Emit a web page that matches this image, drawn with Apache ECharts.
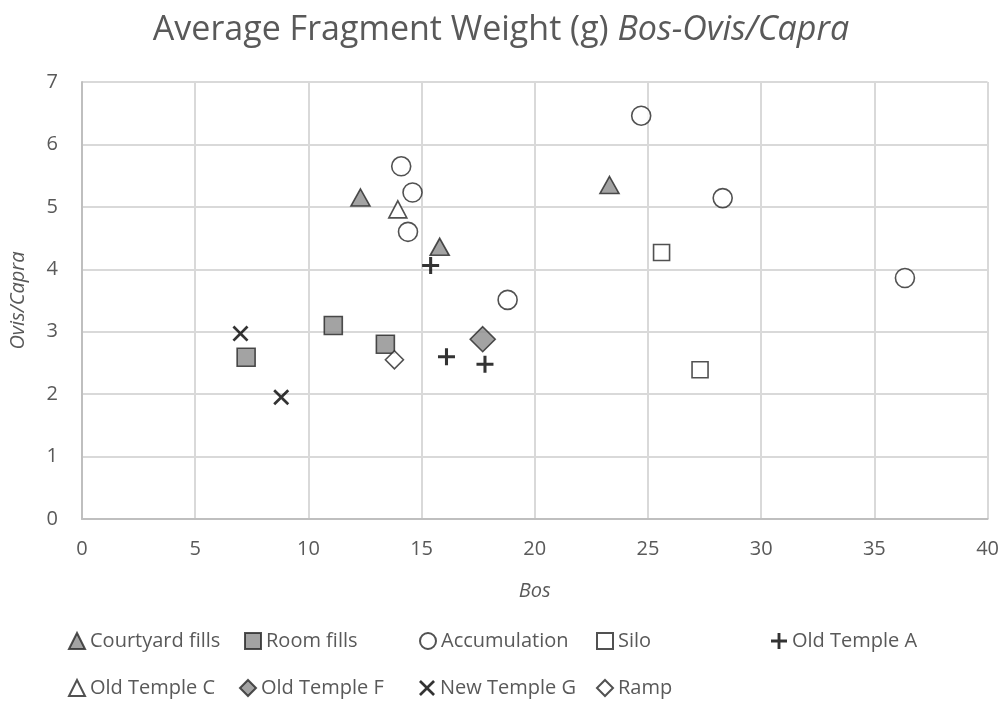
<!DOCTYPE html>
<html lang="en">
<head>
    <meta charset="UTF-8">
    <title>fragment weight</title>
    <script src="https://cdn.jsdelivr.net/npm/echarts@6/dist/echarts.min.js"></script>
</head>
<body style="margin:0">
<div id="main" style="width: 1002px;height:703px;"></div>
</body>

<script type="text/javascript">

    // [Bos, Ovis/Capra]
    var courtyardFills = [[12.3, 5.15], [15.8, 4.36], [23.3, 5.35]];
    var roomFills = [[7.25, 2.59], [11.1, 3.1], [13.4, 2.8]];
    var accumulation = [[14.1, 5.65], [14.6, 5.23], [14.4, 4.6], [18.8, 3.51], [24.7, 6.46], [28.3, 5.14], [36.35, 3.86]];
    var silo = [[25.6, 4.27], [27.3, 2.39]];
    var oldTempleA = [[15.4, 4.06], [16.1, 2.6], [17.8, 2.48]];
    var oldTempleC = [[13.95, 4.96]];
    var oldTempleF = [[17.7, 2.88]];
    var newTempleG = [[7.0, 2.97], [8.8, 1.95]];
    var ramp = [[13.8, 2.55]];

    var xTicks = [0, 5, 10, 15, 20, 25, 30, 35, 40];
    var yTicks = [0, 1, 2, 3, 4, 5, 6, 7];

    var font = 'Open Sans';
    var textColor = '#595959';
    var plusPath = 'path://M4.1,0H5.9V4.1H10V5.9H5.9V10H4.1V5.9H0V4.1H4.1Z';
    var crossPath = 'path://M1.2,0L5,3.8L8.8,0L10,1.2L6.2,5L10,8.8L8.8,10L5,6.2L1.2,10L0,8.8L3.8,5L0,1.2Z';

    var mk = function (name, data, symbol, size, fill, border) {
        return {
            name: name,
            type: 'scatter',
            data: data,
            symbol: symbol,
            symbolSize: size,
            itemStyle: {
                color: fill,
                borderColor: border === undefined ? '#262626' : border,
                borderWidth: border === null ? 0 : 1.6
            },
            emphasis: {disabled: true}
        };
    };

    var series = [
        mk('Courtyard fills', courtyardFills, 'triangle', [19, 17], '#8c8c8c'),
        mk('Room fills', roomFills, 'rect', 18, '#8c8c8c'),
        mk('Accumulation', accumulation, 'circle', 19, '#ffffff'),
        mk('Silo', silo, 'rect', 16, '#ffffff'),
        mk('Old Temple A', oldTempleA, plusPath, 17, '#000000', null),
        mk('Old Temple C', oldTempleC, 'triangle', [18, 17], '#ffffff'),
        mk('Old Temple F', oldTempleF, 'diamond', [25, 25], '#8c8c8c'),
        mk('New Temple G', newTempleG, crossPath, 16, '#000000', null),
        mk('Ramp', ramp, 'diamond', [18, 18], '#ffffff')
    ];

    // legend slots, laid out like the original
    var slots = [
        ['Courtyard fills', 68, 631], ['Room fills', 244, 631], ['Accumulation', 419, 631],
        ['Silo', 596, 631], ['Old Temple A', 771, 631],
        ['Old Temple C', 68, 678], ['Old Temple F', 239, 678], ['New Temple G', 419, 678],
        ['Ramp', 596, 678]
    ];
    var legends = slots.map(function (s) {
        return {
            data: [s[0]],
            left: s[1],
            top: s[2],
            itemWidth: 16,
            itemHeight: 16,
            padding: 0,
            selectedMode: false,
            textStyle: {fontFamily: font, fontSize: 20, color: textColor, padding: [0, 0, 0, 0]}
        };
    });

    var option = {
        backgroundColor: '#ffffff',
        animation: false,
        title: {
            text: '{n|Average Fragment Weight (g) }{i|Bos-Ovis/Capra}',
            left: 'center',
            top: 8,
            textStyle: {
                rich: {
                    n: {fontFamily: font, fontSize: 34, color: textColor, fontWeight: 'normal'},
                    i: {fontFamily: font, fontSize: 34, color: textColor, fontWeight: 'normal', fontStyle: 'italic'}
                }
            }
        },
        legend: legends,
        grid: {left: 82, right: 14, top: 82, bottom: 184},
        xAxis: {
            type: 'value',
            min: xTicks[0],
            max: xTicks[xTicks.length - 1],
            interval: 5,
            name: 'Bos',
            nameLocation: 'middle',
            nameGap: 62,
            nameTextStyle: {fontFamily: font, fontSize: 20, color: textColor, fontStyle: 'italic'},
            axisLine: {show: true, lineStyle: {color: '#bfbfbf', width: 2}},
            axisTick: {show: false},
            splitLine: {show: true, lineStyle: {color: '#d9d9d9', width: 2}},
            axisLabel: {fontFamily: font, fontSize: 20, color: textColor, margin: 20}
        },
        yAxis: {
            type: 'value',
            min: yTicks[0],
            max: yTicks[yTicks.length - 1],
            interval: 1,
            name: 'Ovis/Capra',
            nameLocation: 'middle',
            nameGap: 54,
            nameTextStyle: {fontFamily: font, fontSize: 20, color: textColor, fontStyle: 'italic'},
            axisLine: {show: true, lineStyle: {color: '#bfbfbf', width: 2}},
            axisTick: {show: false},
            splitLine: {show: true, lineStyle: {color: '#d9d9d9', width: 2}},
            axisLabel: {fontFamily: font, fontSize: 20, color: textColor, margin: 24}
        },
        series: series
    };

    var myChart = echarts.init(document.getElementById('main'));
    myChart.setOption(option);

</script>
</html>
